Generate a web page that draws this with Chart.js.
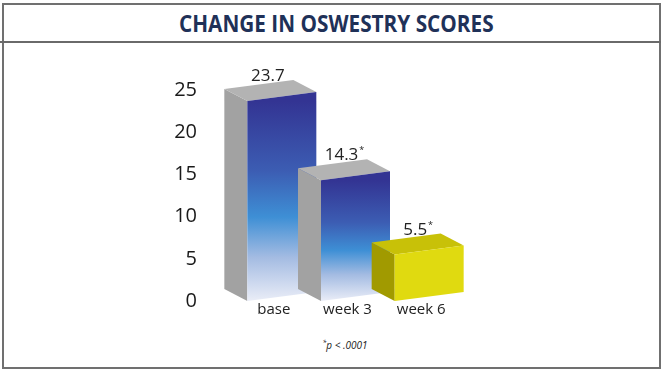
<!DOCTYPE html>
<html>
<head>
<meta charset="utf-8">
<script src="https://cdn.jsdelivr.net/npm/chart.js@4"></script>
<style>
  body { margin: 0; width: 668px; height: 374px; background: #fff; position: relative; overflow: hidden; font-family: "Open Sans", sans-serif; }
  #frame { position: absolute; left: 2px; top: 3px; width: 655px; height: 362px; border: 2px solid #707070; }
  #rule { position: absolute; left: 0; top: 41px; width: 661px; height: 2px; background: #6a6a6a; }
  #title { position: absolute; left: 0; top: 7px; width: 673px; text-align: center; }
  #title span { display: inline-block; font-weight: 700; font-size: 23px; color: #1f3158; transform-origin: center; }
  #note { position: absolute; left: 0; top: 338px; width: 690px; text-align: center; font-style: italic; font-size: 10px; color: #222; }
  #note sup { font-size: 7px; }
  #chart { position: absolute; left: 0; top: 44px; }
</style>
</head>
<body>
<div id="frame"></div>
<div id="rule"></div>
<div id="title"><span>CHANGE IN OSWESTRY SCORES</span></div>
<div id="note"><sup>*</sup>p &lt; .0001</div>
<canvas id="chart" width="668" height="290"></canvas>
<script>
// data
const categories = ['base', 'week 3', 'week 6'];
const scores = [23.7, 14.3, 5.5];
const marks = ['', '*', '*'];
const yTicks = [0, 5, 10, 15, 20, 25];

// look of each box: front gradient stops, side, top
const faces = [
  { front: ['#333493', '#3c5db3', '#3e8fd5', '#a3bbe2', '#eaedf7'], side: '#a2a2a2', top: '#b3b3b3' },
  { front: ['#333493', '#3c5db3', '#3e8fd5', '#a3bbe2', '#eaedf7'], side: '#a2a2a2', top: '#b3b3b3' },
  { front: ['#e0da10', '#e0da10', '#e0da10', '#e0da10', '#e0da10'], side: '#a19a00', top: '#c8c108' }
];
const DX = 23, DY = 12, SKEW = 9;

// squeeze the title to the width of the original lettering
const t = document.querySelector('#title span');
t.style.transform = 'scaleX(' + (315 / t.offsetWidth) + ')';

const box3d = {
  id: 'box3d',
  afterDatasetsDraw(chart) {
    const ctx = chart.ctx;
    const meta = chart.getDatasetMeta(0);
    ctx.save();
    meta.data.forEach((bar, i) => {
      const p = bar.getProps(['x', 'y', 'base', 'width'], true);
      const x0 = p.x - p.width / 2, x1 = p.x + p.width / 2;
      const top = p.y, bot = p.base;
      const f = faces[i];

      // left side
      ctx.beginPath();
      ctx.moveTo(x0, top);
      ctx.lineTo(x0 - DX, top - DY);
      ctx.lineTo(x0 - DX, bot - DY);
      ctx.lineTo(x0, bot);
      ctx.closePath();
      ctx.fillStyle = f.side;
      ctx.fill();

      // top
      ctx.beginPath();
      ctx.moveTo(x0, top);
      ctx.lineTo(x1, top - SKEW);
      ctx.lineTo(x1 - DX, top - SKEW - DY);
      ctx.lineTo(x0 - DX, top - DY);
      ctx.closePath();
      ctx.fillStyle = f.top;
      ctx.fill();

      // front
      const g = ctx.createLinearGradient(0, top, 0, bot);
      g.addColorStop(0, f.front[0]);
      g.addColorStop(0.35, f.front[1]);
      g.addColorStop(0.58, f.front[2]);
      g.addColorStop(0.78, f.front[3]);
      g.addColorStop(1, f.front[4]);
      ctx.beginPath();
      ctx.moveTo(x0, top);
      ctx.lineTo(x1, top - SKEW);
      ctx.lineTo(x1, bot - SKEW);
      ctx.lineTo(x0, bot);
      ctx.closePath();
      ctx.fillStyle = g;
      ctx.fill();

      // value label with significance mark
      const txt = scores[i].toFixed(1);
      ctx.font = '17px "Open Sans"';
      ctx.fillStyle = '#222';
      ctx.textBaseline = 'alphabetic';
      ctx.textAlign = 'center';
      const cx = p.x - 14, by = top - DY - 8;
      ctx.fillText(txt, cx, by);
      if (marks[i]) {
        const w = ctx.measureText(txt).width;
        ctx.font = '9px "Open Sans"';
        ctx.textAlign = 'left';
        ctx.fillText(marks[i], cx + w / 2 + 1, by - 7);
      }
    });
    ctx.restore();
  }
};

new Chart(document.getElementById('chart'), {
  type: 'bar',
  data: {
    labels: categories,
    datasets: [{
      data: scores,
      backgroundColor: 'rgba(0,0,0,0)',
      borderWidth: 0,
      barThickness: 69
    }]
  },
  options: {
    responsive: false,
    animation: false,
    events: [],
    layout: { padding: { left: 0, right: 202, top: 46, bottom: 3 } },
    plugins: { legend: { display: false }, tooltip: { enabled: false } },
    scales: {
      x: {
        grid: { display: false, drawTicks: false },
        border: { display: false },
        ticks: { color: '#222', font: { family: 'Open Sans', size: 15 }, padding: 0, labelOffset: -8 },
        afterFit(s) { s.height = 30; }
      },
      y: {
        min: 0,
        max: 25,
        grid: { display: false, drawTicks: false },
        border: { display: false },
        ticks: { color: '#1a1a1a', font: { family: 'Open Sans', size: 20 }, padding: 48 },
        afterBuildTicks(s) { s.ticks = yTicks.map(v => ({ value: v })); },
        // tick padding also pads top/bottom; only the label halves are needed
        afterFit(s) { s.width = 245; s.paddingTop = 12; s.paddingBottom = 12; }
      }
    }
  },
  plugins: [box3d]
});
</script>
</body>
</html>
